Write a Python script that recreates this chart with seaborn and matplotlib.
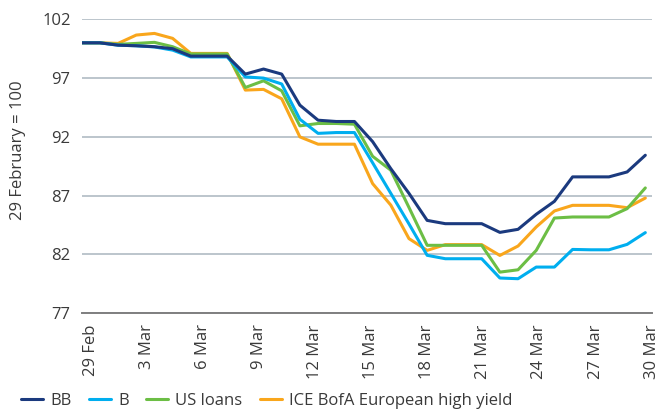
import numpy as np
import pandas as pd
import seaborn as sns
import matplotlib.pyplot as plt

# daily index levels, 29 Feb = 100
DATES = pd.date_range('2020-02-29', '2020-03-31', freq='D')
BB = [100.0, 100.0, 99.8, 99.75, 99.67, 99.5, 98.87, 98.87, 98.87, 97.34, 97.77, 97.34,
      94.7, 93.42, 93.31, 93.31, 91.6, 89.3, 87.2, 84.9, 84.62, 84.62, 84.62, 83.88,
      84.14, 85.42, 86.52, 88.6, 88.6, 88.6, 89.02, 90.44]
B = [100.0, 100.0, 99.8, 99.75, 99.65, 99.38, 98.8, 98.8, 98.8, 97.1, 97.0, 96.5,
     93.5, 92.3, 92.37, 92.37, 89.8, 87.2, 84.6, 81.93, 81.64, 81.64, 81.64, 80.0,
     79.94, 80.93, 80.93, 82.43, 82.4, 82.4, 82.86, 83.86]
US_LOANS = [100.0, 100.0, 99.87, 99.95, 100.04, 99.67, 99.05, 99.05, 99.05, 96.2, 96.77, 95.92,
            92.94, 93.14, 93.14, 93.08, 90.35, 89.17, 86.0, 82.78, 82.78, 82.78, 82.78, 80.5,
            80.7, 82.35, 85.1, 85.19, 85.19, 85.19, 85.9, 87.66]
EURO_HY = [100.0, 100.0, 99.95, 100.66, 100.8, 100.38, 99.1, 99.1, 99.1, 95.98, 96.04, 95.24,
           92.0, 91.38, 91.38, 91.38, 88.03, 86.2, 83.35, 82.35, 82.84, 82.84, 82.84, 81.92,
           82.72, 84.34, 85.7, 86.18, 86.18, 86.18, 85.98, 86.8]

SERIES = ['BB', 'B', 'US loans', 'ICE BofA European high yield']
COLORS = ['#1B3A7E', '#00AEEF', '#6CBE45', '#F9A61C']
TICKLABELS = ['29 Feb', '3 Mar', '6 Mar', '9 Mar', '12 Mar', '15 Mar',
              '18 Mar', '21 Mar', '24 Mar', '27 Mar', '30 Mar']
YTICKS = [77, 82, 87, 92, 97, 102]

day = np.arange(len(DATES))
df = pd.concat([pd.DataFrame({'day': day, 'value': v, 'series': s})
                for s, v in zip(SERIES, [BB, B, US_LOANS, EURO_HY])])

sns.set_theme(style='white')
plt.rcParams['font.family'] = ['Open Sans', 'DejaVu Sans']
txt = '#3a3a3a'
fs = 12

fig = plt.figure(figsize=(6.6, 4.16), dpi=100)
ax = fig.add_axes([0.1238, 0.2469, 0.8636, 0.7067])

# draw BB last so it sits on top
sns.lineplot(data=df, x='day', y='value', hue='series', hue_order=SERIES[::-1],
             palette=dict(zip(SERIES, COLORS)), linewidth=2.2, ax=ax)
handles, labels = ax.get_legend_handles_labels()
ax.get_legend().remove()

ax.set_xlim(0, len(DATES) - 1)
ax.set_ylim(77, 102)
ax.set_yticks(YTICKS)
ax.yaxis.grid(True, color='#aab5bf', linewidth=1.1)
ax.set_axisbelow(True)
for s in ['top', 'right', 'left']:
    ax.spines[s].set_visible(False)
ax.spines['bottom'].set_color('#7f7f7f')
ax.spines['bottom'].set_linewidth(1.4)

ax.set_xticks(np.linspace(0.49, 31.35, len(TICKLABELS)))
ax.set_xticklabels(TICKLABELS, rotation=90, fontsize=fs, color=txt)
ax.tick_params(axis='x', length=0, pad=8)
ax.tick_params(axis='y', length=0, pad=8, labelsize=fs, labelcolor=txt)
ax.set_xlabel('')
ax.set_ylabel('')

fig.text(18 / 660, 1 - 150 / 416, '29 February = 100', rotation=90,
         ha='center', va='center', fontsize=fs, color=txt)

fig.legend(handles[::-1], labels[::-1], loc='center left',
           bbox_to_anchor=(6 / 660, 1 - 401 / 416), ncol=4, frameon=False,
           fontsize=12, handlelength=1.3, handletextpad=0.45, columnspacing=1.05,
           labelcolor=txt)

plt.savefig('out.png', dpi=100)
